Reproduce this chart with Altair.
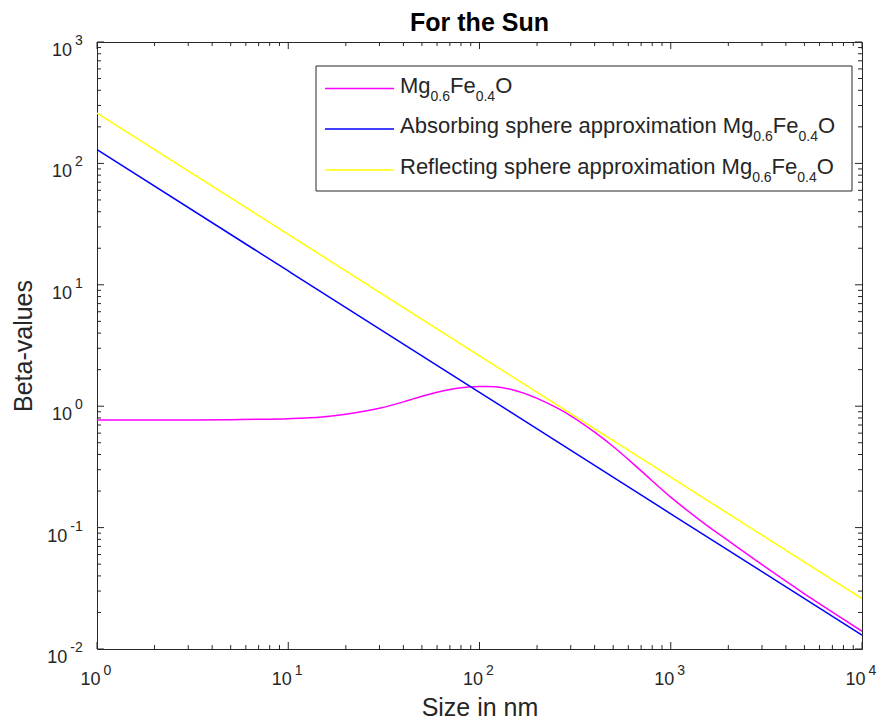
import altair as alt
import pandas as pd

# ---- data ----
sizes_mgfeo = [1, 2, 3, 5, 7, 10, 15, 20, 30, 40, 50, 60, 70, 80, 90, 100, 110, 120, 150,
               200, 250, 300, 400, 500, 700, 1000, 1500, 2000, 3000, 5000, 7000, 10000]
beta_mgfeo = [0.77, 0.77, 0.771, 0.775, 0.78, 0.79, 0.816, 0.859, 0.962, 1.085, 1.208,
              1.304, 1.372, 1.418, 1.444, 1.453, 1.455, 1.448, 1.36, 1.161, 0.982, 0.834,
              0.611, 0.466, 0.293, 0.178, 0.108, 0.078, 0.0495, 0.0285, 0.0201, 0.0140]
sizes_approx = [1, 10, 100, 1000, 10000]
beta_absorbing = [130, 13, 1.3, 0.13, 0.013]
beta_reflecting = [260, 26, 2.6, 0.26, 0.026]

series_names = [
    "Mg0.6Fe0.4O",
    "Absorbing sphere approximation Mg0.6Fe0.4O",
    "Reflecting sphere approximation Mg0.6Fe0.4O",
]
# legend text pieces: (text, is_subscript)
legend_prefix = ["", "Absorbing sphere approximation ", "Reflecting sphere approximation "]
formula_pieces = [("Mg", False), ("0.6", True), ("Fe", False), ("0.4", True), ("O", False)]
series_colors = ["#ff00ff", "#0000ff", "#ffff00"]

x_major = [1, 10, 100, 1000, 10000]
x_exps = ["0", "1", "2", "3", "4"]
y_major = [0.01, 0.1, 1, 10, 100, 1000]
y_exps = ["-2", "-1", "0", "1", "2", "3"]
x_minor = [m * d for d in [1, 10, 100, 1000] for m in range(2, 10)]
y_minor = [m * d for d in [0.01, 0.1, 1, 10, 100] for m in range(2, 10)]

# ---- layout ----
W, H = 765, 607
FONT = "Liberation Sans"
AX = "#262626"
TICK_FS, EXP_FS = 18, 14
LEG_FS, SUB_FS = 22, 14

# Arial/Liberation Sans advance widths (per 1000 em) for legend layout
ADV = {" ": 278, "A": 667, "b": 556, "s": 500, "o": 556, "r": 333, "i": 222, "n": 556,
       "g": 556, "p": 556, "h": 556, "e": 556, "a": 556, "x": 500, "m": 833, "t": 278,
       "M": 833, "R": 722, "f": 278, "l": 222, "c": 500, "F": 611, "O": 778, ".": 278,
       "-": 333}


def text_w(s, fs):
    return sum(ADV.get(ch, 556) for ch in s) * fs / 1000.0


rows = []
for name, xs, ys in [(series_names[0], sizes_mgfeo, beta_mgfeo),
                     (series_names[1], sizes_approx, beta_absorbing),
                     (series_names[2], sizes_approx, beta_reflecting)]:
    for a, b in zip(xs, ys):
        rows.append({"series": name, "size": a, "beta": b})
df = pd.DataFrame(rows)

xscale = alt.Scale(type="log", domain=[1, 10000], nice=False)
yscale = alt.Scale(type="log", domain=[0.01, 1000], nice=False)

xaxis = alt.Axis(values=x_major, labels=False, ticks=False, tickSize=0, domain=False,
                 grid=False, title="Size in nm", titleFontSize=25, titleFontWeight="normal",
                 titleColor=AX, titleX=W / 2, titleY=66, titleBaseline="alphabetic")
yaxis = alt.Axis(values=y_major, labels=False, ticks=False, tickSize=0, domain=False,
                 grid=False, title="Beta-values", titleFontSize=25, titleFontWeight="normal",
                 titleColor=AX, titleX=-66, titleY=H / 2, titleBaseline="alphabetic",
                 titleAngle=270)

lines = alt.Chart(df).mark_line(strokeWidth=1.5, clip=True, interpolate="monotone").encode(
    x=alt.X("size:Q", scale=xscale, axis=xaxis),
    y=alt.Y("beta:Q", scale=yscale, axis=yaxis),
    color=alt.Color("series:N", scale=alt.Scale(domain=series_names, range=series_colors),
                    legend=None),
    order=alt.Order("size:Q"),
)

layers = [lines]


def X(): return alt.X("size:Q", scale=xscale, axis=xaxis)
def Y(): return alt.Y("beta:Q", scale=yscale, axis=yaxis)


def tick_layer(values, field, length, side):
    d = pd.DataFrame({field: values})
    base = alt.Chart(d).mark_rule(color=AX, strokeWidth=1)
    if field == "size":
        enc = dict(x=X())
        if side == "bottom":
            enc.update(y=alt.value(H), y2=alt.value(H - length))
        else:
            enc.update(y=alt.value(0), y2=alt.value(length))
    else:
        enc = dict(y=Y())
        if side == "left":
            enc.update(x=alt.value(0), x2=alt.value(length))
        else:
            enc.update(x=alt.value(W), x2=alt.value(W - length))
    return base.encode(**enc)


for side in ["bottom", "top"]:
    layers.append(tick_layer(x_major, "size", 7, side))
    layers.append(tick_layer(x_minor, "size", 4, side))
for side in ["left", "right"]:
    layers.append(tick_layer(y_major, "beta", 7, side))
    layers.append(tick_layer(y_minor, "beta", 4, side))

# ---- tick labels "10" with raised exponent ----
xl = pd.DataFrame({"size": x_major, "base": ["10"] * len(x_major), "exp": x_exps})
layers.append(alt.Chart(xl).mark_text(align="center", baseline="alphabetic", fontSize=TICK_FS,
                                      font=FONT, color=AX, dx=-6.5).encode(
    x=X(), y=alt.value(H + 36), text="base:N"))
layers.append(alt.Chart(xl).mark_text(align="left", baseline="alphabetic", fontSize=EXP_FS,
                                      font=FONT, color=AX, dx=6.5).encode(
    x=X(), y=alt.value(H + 26), text="exp:N"))

yl = pd.DataFrame({"beta": y_major, "base": ["10"] * len(y_major), "exp": y_exps})
yl_neg = yl[yl["exp"].str.startswith("-")]
yl_pos = yl[~yl["exp"].str.startswith("-")]
minus_w = text_w("-", EXP_FS)
for part, shift in [(yl_pos, 0.0), (yl_neg, minus_w)]:
    layers.append(alt.Chart(part).mark_text(align="right", baseline="alphabetic",
                                            fontSize=TICK_FS, font=FONT, color=AX,
                                            dy=14).encode(
        y=Y(), x=alt.value(-25 - shift), text="base:N"))
    layers.append(alt.Chart(part).mark_text(align="left", baseline="alphabetic",
                                            fontSize=EXP_FS, font=FONT, color=AX,
                                            dy=3).encode(
        y=Y(), x=alt.value(-22 - shift), text="exp:N"))

# ---- legend box ----
layers.append(
    alt.Chart(pd.DataFrame({"k": [0]})).mark_rect(fill="white", stroke=AX, strokeWidth=1).encode(
        x=alt.value(219), x2=alt.value(755), y=alt.value(24), y2=alt.value(149))
)
row_y = [46.5, 87, 128]
for i, col in enumerate(series_colors):
    d = pd.DataFrame({"label": [series_names[i]]})
    layers.append(alt.Chart(d).mark_rule(color=col, strokeWidth=1.5).encode(
        x=alt.value(228), x2=alt.value(297), y=alt.value(row_y[i])))
    pieces = [(legend_prefix[i] + formula_pieces[0][0], False)] + formula_pieces[1:]
    xpos = 303.0
    for txt, is_sub in pieces:
        fs = SUB_FS if is_sub else LEG_FS
        pd_piece = pd.DataFrame({"t": [txt]})
        layers.append(alt.Chart(pd_piece).mark_text(align="left", baseline="alphabetic",
                                                    fontSize=fs, font=FONT, color=AX).encode(
            x=alt.value(xpos), y=alt.value(row_y[i] + (12 if is_sub else 4)), text="t:N"))
        xpos += text_w(txt, fs)

# ---- title ----
layers.append(alt.Chart(pd.DataFrame({"t": ["For the Sun"]})).mark_text(
    align="center", baseline="alphabetic", fontSize=25, fontWeight="bold", font=FONT,
    color="black").encode(x=alt.value(W / 2), y=alt.value(-11), text="t:N"))

chart = alt.layer(*layers).properties(
    width=W, height=H,
    autosize=alt.AutoSizeParams(type="none"),
    padding={"left": 89, "top": 34, "right": 15, "bottom": 71},
).configure(font=FONT, background="white").configure_view(stroke=AX, strokeWidth=1)

chart.save("out.html", embed_options={"renderer": "svg", "actions": False})
